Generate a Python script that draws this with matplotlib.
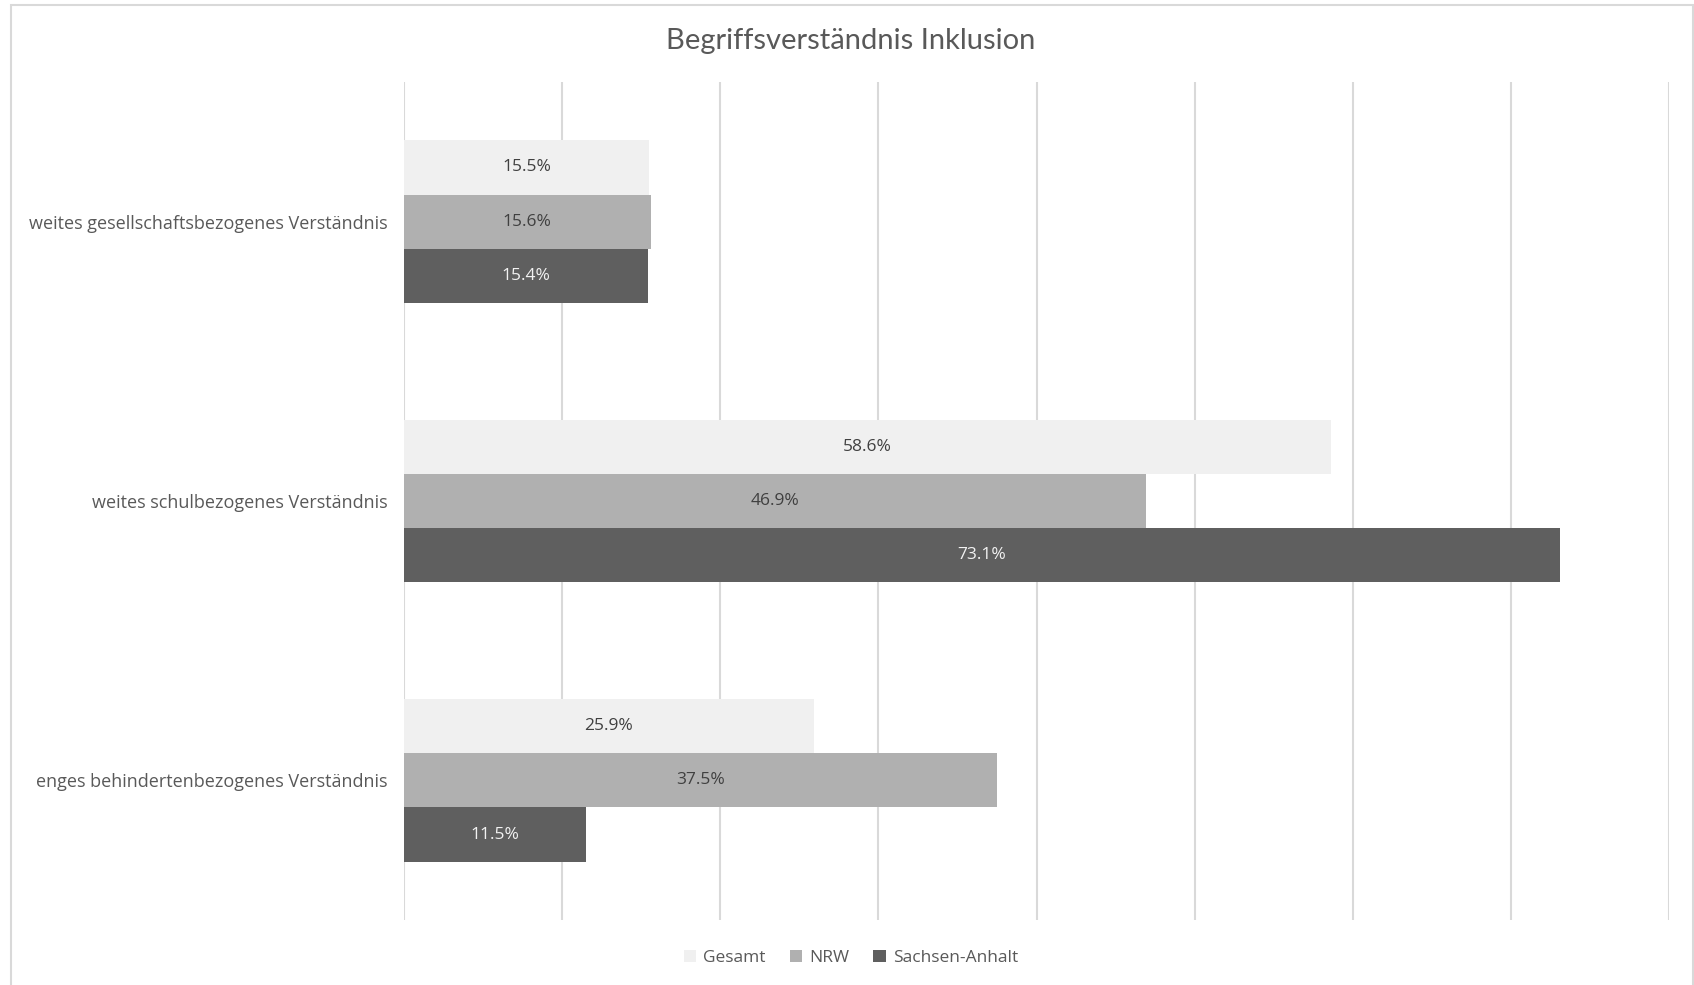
import matplotlib
matplotlib.use("Agg")
import matplotlib.pyplot as plt
import numpy as np
from matplotlib.patches import Rectangle

categories = ["weites gesellschaftsbezogenes Verständnis",
              "weites schulbezogenes Verständnis",
              "enges behindertenbezogenes Verständnis"]
series = ["Gesamt", "NRW", "Sachsen-Anhalt"]
gesamt = [15.5, 58.6, 25.9]
nrw = [15.6, 46.9, 37.5]
sachsen_anhalt = [15.4, 73.1, 11.5]
values = [gesamt, nrw, sachsen_anhalt]
colors = ["#f0f0f0", "#b0b0b0", "#5f5f5f"]
label_colors = ["#404040", "#404040", "#f2f2f2"]

W, H = 1694, 985
fig = plt.figure(figsize=(W / 100, H / 100), dpi=100)
fig.patch.set_facecolor("white")

# chart frame (bottom edge lies outside the image)
fig.patches.append(Rectangle((11 / W, -0.05), (1693 - 11) / W, 1.05 - 5 / H,
                             transform=fig.transFigure, fill=False,
                             edgecolor="#d9d9d9", lw=1.5))

ax = fig.add_axes([404 / W, (H - 920) / H, (1669 - 404) / W, (920 - 82) / H])
y = np.arange(len(categories))
bh = 0.194
for i, (vals, c, lc) in enumerate(zip(values, colors, label_colors)):
    pos = y + (i - 1) * bh
    ax.barh(pos, vals, height=bh, color=c, label=series[i], zorder=2)
    for p, v in zip(pos, vals):
        ax.text(v / 2, p, f"{v:.1f}%", ha="center", va="center",
                fontsize=12.5, color=lc, family="Open Sans", zorder=3)

ax.set_xlim(0, 80)
ax.set_ylim(len(categories) - 0.5, -0.5)
ax.set_xticks(np.arange(0, 81, 10))
ax.xaxis.grid(True, color="#d9d9d9", lw=1.5, zorder=0)
ax.tick_params(axis="x", length=0, labelbottom=False)
ax.tick_params(axis="y", length=0, pad=12)
ax.set_yticks(y)
ax.set_yticklabels(categories, fontsize=13, color="#595959", family="Open Sans")
for sp in ax.spines.values():
    sp.set_visible(False)

fig.text(851 / W, 1 - 41 / H, "Begriffsverständnis Inklusion", ha="center",
         va="center", fontsize=21, color="#595959", family="Lato")

leg = fig.legend(loc="center", bbox_to_anchor=(851 / W, 1 - 958 / H), ncol=3,
                 frameon=False, handlelength=0.7, handleheight=0.7,
                 handletextpad=0.4, columnspacing=1.4,
                 prop={"family": "Open Sans", "size": 12.5})
for t in leg.get_texts():
    t.set_color("#595959")

fig.savefig("out.png", dpi=100)
